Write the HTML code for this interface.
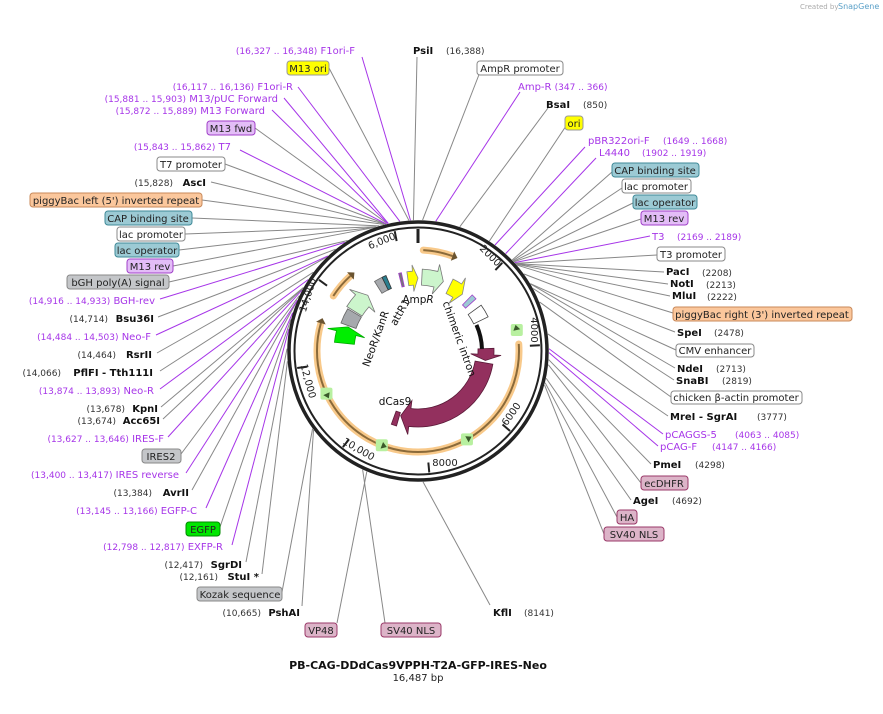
<!DOCTYPE html>
<html><head><meta charset="utf-8"><style>
html,body{margin:0;padding:0;background:#fff;}
svg{display:block;font-family:"DejaVu Sans","Liberation Sans",sans-serif;}
.t{font-size:10px;fill:#222}
.b{font-size:10px;font-weight:bold;fill:#111}
.n{font-size:9px;fill:#333}
.p{font-size:10px;fill:#a635e8}
.pn{font-size:9px;fill:#a635e8}
</style></head><body>
<svg id="s" width="883" height="714" viewBox="0 0 883 714" xmlns="http://www.w3.org/2000/svg">
<g id="lines"></g>
<g id="map"></g>
<circle cx="418" cy="351" r="129" fill="none" stroke="#222" stroke-width="3.5"/>
<circle cx="418" cy="351" r="123.5" fill="none" stroke="#222" stroke-width="2"/>
<g id="ticks"></g>
<g font-size="10" fill="#222">
<text transform="translate(488,258) rotate(45)" text-anchor="middle">2000</text>
<text transform="translate(531,330) rotate(90)" text-anchor="middle">4000</text>
<text transform="translate(514,416) rotate(-55)" text-anchor="middle">6000</text>
<text x="445" y="466" text-anchor="middle">8000</text>
<text transform="translate(357,452) rotate(30)" text-anchor="middle">10,000</text>
<text transform="translate(305,382) rotate(75)" text-anchor="middle">12,000</text>
<text transform="translate(311,296) rotate(-72)" text-anchor="middle">14,000</text>
<text transform="translate(383,244) rotate(-22)" text-anchor="middle">6,000</text>
</g>
<g font-size="10.5" fill="#111">
<text x="418" y="303" text-anchor="middle">Amp<tspan font-style="italic">R</tspan></text>
<text transform="translate(403,314) rotate(-60)" text-anchor="middle">attR1</text>
<text transform="translate(379,340) rotate(-70)" text-anchor="middle">NeoR/KanR</text>
<text transform="translate(456,340) rotate(70)" text-anchor="middle">chimeric intron</text>
<text x="395" y="405" text-anchor="middle">dCas9</text>
</g>

<g>
<text x="800" y="9" font-size="7" fill="#aaa">Created by</text><text x="838" y="9" font-size="8" fill="#5aa0c8">SnapGene</text>
<text x="355" y="54" class="p" text-anchor="end"><tspan class="pn">(16,327 .. 16,348)</tspan>  F1ori-F</text>
<rect x="287" y="61" width="42" height="14" rx="3" fill="#ffff00" stroke="#999"/><text x="308" y="72" class="t" text-anchor="middle">M13 ori</text>
<text x="413" y="54" class="b">PsiI</text><text x="446" y="54" class="n">(16,388)</text>
<rect x="477" y="61" width="86" height="14" rx="3" fill="#fff" stroke="#888"/><text x="520" y="72" class="t" text-anchor="middle">AmpR promoter</text>
<text x="518" y="90" class="p">Amp-R  <tspan class="pn">(347 .. 366)</tspan></text>
<text x="546" y="108" class="b">BsaI</text><text x="583" y="108" class="n">(850)</text>
<rect x="565" y="116" width="18" height="14" rx="3" fill="#ffff00" stroke="#999"/><text x="574" y="127" class="t" text-anchor="middle">ori</text>
<text x="588" y="144" class="p">pBR322ori-F <tspan class="pn" x="663">(1649 .. 1668)</tspan></text>
<text x="599" y="156" class="p">L4440 <tspan class="pn" x="642">(1902 .. 1919)</tspan></text>
<rect x="612" y="163" width="87" height="14" rx="3" fill="#9ccad4" stroke="#3f8a98"/><text x="655" y="174" class="t" text-anchor="middle">CAP binding site</text>
<rect x="622" y="179" width="69" height="14" rx="3" fill="#fff" stroke="#888"/><text x="656" y="190" class="t" text-anchor="middle">lac promoter</text>
<rect x="633" y="195" width="64" height="14" rx="3" fill="#9ccad4" stroke="#3f8a98"/><text x="665" y="206" class="t" text-anchor="middle">lac operator</text>
<rect x="641" y="211" width="47" height="14" rx="3" fill="#e3bdf7" stroke="#a040c8"/><text x="664" y="222" class="t" text-anchor="middle">M13 rev</text>
<text x="652" y="240" class="p">T3 <tspan class="pn" x="677">(2169 .. 2189)</tspan></text>
<rect x="657" y="247" width="68" height="14" rx="3" fill="#fff" stroke="#888"/><text x="691" y="258" class="t" text-anchor="middle">T3 promoter</text>
<text x="666" y="275" class="b">PacI</text><text x="702" y="276" class="n">(2208)</text>
<text x="670" y="287" class="b">NotI</text><text x="706" y="288" class="n">(2213)</text>
<text x="672" y="299" class="b">MluI</text><text x="707" y="300" class="n">(2222)</text>
<rect x="673" y="307" width="179" height="14" rx="3" fill="#fbc79c" stroke="#c8895a"/><text x="762" y="318" class="t" text-anchor="middle">piggyBac right (3') inverted repeat</text>
<text x="677" y="336" class="b">SpeI</text><text x="714" y="336" class="n">(2478)</text>
<rect x="676" y="344" width="78" height="13" rx="3" fill="#fff" stroke="#888"/><text x="715" y="354" class="t" text-anchor="middle">CMV enhancer</text>
<text x="677" y="372" class="b">NdeI</text><text x="716" y="372" class="n">(2713)</text>
<text x="676" y="384" class="b">SnaBI</text><text x="722" y="384" class="n">(2819)</text>
<rect x="671" y="391" width="131" height="13" rx="3" fill="#fff" stroke="#888"/><text x="736" y="401" class="t" text-anchor="middle">chicken β-actin promoter</text>
<text x="670" y="420" class="b">MreI  - SgrAI</text><text x="757" y="420" class="n">(3777)</text>
<text x="665" y="438" class="p">pCAGGS-5 <tspan class="pn" x="735">(4063 .. 4085)</tspan></text>
<text x="660" y="450" class="p">pCAG-F <tspan class="pn" x="712">(4147 .. 4166)</tspan></text>
<text x="653" y="468" class="b">PmeI</text><text x="695" y="468" class="n">(4298)</text>
<rect x="641" y="476" width="47" height="14" rx="3" fill="#dcb4c8" stroke="#9a3868"/><text x="664" y="487" class="t" text-anchor="middle">ecDHFR</text>
<text x="633" y="504" class="b">AgeI</text><text x="672" y="504" class="n">(4692)</text>
<rect x="617" y="510" width="20" height="14" rx="3" fill="#dcb4c8" stroke="#9a3868"/><text x="627" y="521" class="t" text-anchor="middle">HA</text>
<rect x="604" y="527" width="60" height="14" rx="3" fill="#dcb4c8" stroke="#9a3868"/><text x="634" y="538" class="t" text-anchor="middle">SV40 NLS</text>

<text x="493" y="616" class="b">KflI</text><text x="524" y="616" class="n">(8141)</text>
<rect x="305" y="623" width="32" height="14" rx="3" fill="#dcb4c8" stroke="#9a3868"/><text x="321" y="634" class="t" text-anchor="middle">VP48</text>
<rect x="381" y="623" width="60" height="14" rx="3" fill="#dcb4c8" stroke="#9a3868"/><text x="411" y="634" class="t" text-anchor="middle">SV40 NLS</text>
<text x="300" y="616" class="b" text-anchor="end">PshAI</text><text x="261" y="616" class="n" text-anchor="end">(10,665)</text>
<rect x="197" y="587" width="85" height="14" rx="3" fill="#c4c6c9" stroke="#888"/><text x="240" y="598" class="t" text-anchor="middle">Kozak sequence</text>
<text x="259" y="580" class="b" text-anchor="end">StuI *</text><text x="218" y="580" class="n" text-anchor="end">(12,161)</text>
<text x="242" y="568" class="b" text-anchor="end">SgrDI</text><text x="203" y="568" class="n" text-anchor="end">(12,417)</text>
<text x="223" y="550" class="p" text-anchor="end"><tspan class="pn">(12,798 .. 12,817)</tspan>  EXFP-R</text>
<rect x="186" y="522" width="34" height="14" rx="3" fill="#00e600" stroke="#080"/><text x="203" y="533" class="t" text-anchor="middle">EGFP</text>
<text x="197" y="514" class="p" text-anchor="end"><tspan class="pn">(13,145 .. 13,166)</tspan>  EGFP-C</text>
<text x="189" y="496" class="b" text-anchor="end">AvrII</text><text x="152" y="496" class="n" text-anchor="end">(13,384)</text>
<text x="179" y="478" class="p" text-anchor="end"><tspan class="pn">(13,400 .. 13,417)</tspan>  IRES reverse</text>
<rect x="142" y="449" width="39" height="14" rx="3" fill="#c4c6c9" stroke="#888"/><text x="161" y="460" class="t" text-anchor="middle">IRES2</text>
<text x="164" y="442" class="p" text-anchor="end"><tspan class="pn">(13,627 .. 13,646)</tspan>  IRES-F</text>
<text x="160" y="424" class="b" text-anchor="end">Acc65I</text><text x="116" y="424" class="n" text-anchor="end">(13,674)</text>
<text x="158" y="412" class="b" text-anchor="end">KpnI</text><text x="125" y="412" class="n" text-anchor="end">(13,678)</text>
<text x="154" y="394" class="p" text-anchor="end"><tspan class="pn">(13,874 .. 13,893)</tspan>  Neo-R</text>
<text x="153" y="376" class="b" text-anchor="end">PflFI  - Tth111I</text><text x="61" y="376" class="n" text-anchor="end">(14,066)</text>
<text x="152" y="358" class="b" text-anchor="end">RsrII</text><text x="116" y="358" class="n" text-anchor="end">(14,464)</text>
<text x="151" y="340" class="p" text-anchor="end"><tspan class="pn">(14,484 .. 14,503)</tspan>  Neo-F</text>
<text x="154" y="322" class="b" text-anchor="end">Bsu36I</text><text x="108" y="322" class="n" text-anchor="end">(14,714)</text>
<text x="155" y="304" class="p" text-anchor="end"><tspan class="pn">(14,916 .. 14,933)</tspan>  BGH-rev</text>
<rect x="67" y="275" width="102" height="14" rx="3" fill="#c4c6c9" stroke="#888"/><text x="118" y="286" class="t" text-anchor="middle">bGH poly(A) signal</text>
<rect x="127" y="259" width="46" height="14" rx="3" fill="#e3bdf7" stroke="#a040c8"/><text x="150" y="270" class="t" text-anchor="middle">M13 rev</text>
<rect x="115" y="243" width="64" height="14" rx="3" fill="#9ccad4" stroke="#3f8a98"/><text x="147" y="254" class="t" text-anchor="middle">lac operator</text>
<rect x="117" y="227" width="68" height="14" rx="3" fill="#fff" stroke="#888"/><text x="151" y="238" class="t" text-anchor="middle">lac promoter</text>
<rect x="105" y="211" width="87" height="14" rx="3" fill="#9ccad4" stroke="#3f8a98"/><text x="148" y="222" class="t" text-anchor="middle">CAP binding site</text>
<rect x="30" y="193" width="172" height="14" rx="3" fill="#fbc79c" stroke="#c8895a"/><text x="116" y="204" class="t" text-anchor="middle">piggyBac left (5') inverted repeat</text>
<text x="206" y="186" class="b" text-anchor="end">AscI</text><text x="173" y="186" class="n" text-anchor="end">(15,828)</text>
<rect x="157" y="157" width="68" height="14" rx="3" fill="#fff" stroke="#888"/><text x="191" y="168" class="t" text-anchor="middle">T7 promoter</text>
<text x="231" y="150" class="p" text-anchor="end"><tspan class="pn">(15,843 .. 15,862)</tspan>  T7</text>
<rect x="207" y="121" width="48" height="14" rx="3" fill="#e3bdf7" stroke="#a040c8"/><text x="231" y="132" class="t" text-anchor="middle">M13 fwd</text>
<text x="265" y="114" class="p" text-anchor="end"><tspan class="pn">(15,872 .. 15,889)</tspan>  M13 Forward</text>
<text x="278" y="102" class="p" text-anchor="end"><tspan class="pn">(15,881 .. 15,903)</tspan>  M13/pUC Forward</text>
<text x="293" y="90" class="p" text-anchor="end"><tspan class="pn">(16,117 .. 16,136)</tspan>  F1ori-R</text>

<text x="418" y="669" text-anchor="middle" font-size="11" font-weight="bold" fill="#111">PB-CAG-DDdCas9VPPH-T2A-GFP-IRES-Neo</text>
<text x="418" y="681" text-anchor="middle" font-size="10" fill="#222">16,487 bp</text>
</g>
</svg>
<script>
var cx=418,cy=351,NS="http://www.w3.org/2000/svg";
function P(a,r){a=a*Math.PI/180;return [cx+r*Math.sin(a),cy-r*Math.cos(a)];}
function el(g,t,at){var e=document.createElementNS(NS,t);for(var k in at)e.setAttribute(k,at[k]);document.getElementById(g).appendChild(e);return e;}
var G="#888",V="#a635e8";
var L=[
[362,57,-3.3,V],[329,68,-4,G],[417,57,-2,G],[480,72,2,G],[520,92,7.8,V],[548,108,18.6,G],[566,126,33,G],
[585,147,36,V],[596,158,42,V],[612,172,46,G],[622,188,46.4,G],[633,203,46.8,G],[641,219,47.1,G],[650,236,47.6,V],
[657,255,48,G],[664,272,48.2,G],[668,284,48.3,G],[670,296,48.5,G],[673,313,49,G],[675,332,54,G],[676,350,59,G],
[675,368,59.2,G],[674,380,61.5,G],[671,397,68,G],[668,416,82.5,G],[663,434,89,V],[658,446,90.7,V],[651,464,93.8,G],
[641,483,96,G],[631,500,102,G],[617,517,104,G],[604,534,105,G],
[490,605,177.8,G],[337,623,203,G],[385,623,205,G],[302,606,232.9,G],[282,592,233.6,G],
[262,574,265.5,G],[246,562,271,G],[232,545,279.7,V],[220,527,284,G],[206,508,287,V],[192,490,292,G],[186,473,292.8,V],
[181,454,295,G],[168,437,297.8,V],[163,419,298.6,G],[161,407,299,G],[160,389,303,V],[160,371,307,G],[157,353,315.8,G],
[156,335,316.5,V],[158,317,321,G],[160,299,326,V],[169,282,327.5,G],[173,266,340.6,G],[179,250,341,G],[185,234,341.5,G],
[192,218,342.8,G],[202,200,345,G],[211,182,345.6,G],[225,164,345.8,G],[240,150,346,V],[255,128,346.5,G],[272,110,346.7,V],
[284,98,346.9,V],[298,87,352,V]];
L.forEach(function(l){var e=P(l[2],131);el("lines","line",{x1:l[0],y1:l[1],x2:e[0],y2:e[1],stroke:l[3],"stroke-width":1});});
[43.7,87.3,131,174.7,218,262,305.7,349].forEach(function(a){var p=P(a,122),q=P(a,112);el("ticks","line",{x1:p[0],y1:p[1],x2:q[0],y2:q[1],stroke:"#222","stroke-width":2});});
var p=P(0,122),q=P(0,108);el("ticks","line",{x1:p[0],y1:p[1],x2:q[0],y2:q[1],stroke:"#222","stroke-width":3});
function arcPath(a1,a2,r){var s=P(a1,r),e=P(a2,r),lg=((a2-a1+360)%360)>180?1:0;return "M"+s+" A"+r+","+r+" 0 "+lg+" 1 "+e;}
function oarc(a1,a2,r){el("map","path",{d:arcPath(a1,a2,r),fill:"none",stroke:"#f8c98a","stroke-width":7,"stroke-linecap":"round"});
 el("map","path",{d:arcPath(a1,a2,r),fill:"none",stroke:"#8a6a3a","stroke-width":2});}
oarc(3,20,101);oarc(303,318,101);oarc(86,286,101);
function head(a,r,dir,col,sz){var t=P(a+dir*3,r),b1=P(a,r-sz),b2=P(a,r+sz);el("map","polygon",{points:t+" "+b1+" "+b2,fill:col});}
head(20,101,1,"#6b5430",5);head(318,101,1,"#6b5430",5);head(286,101,1,"#6b5430",5);
function band(a1,a2,r1,r2,fill,stroke,dir,hl){var A=a1,B=a2;var hd=hl||0;
 var e1=dir>0?B-hd:B, s1=dir<0?A+hd:A;
 var o1=P(s1,r2),o2=P(e1,r2),i2=P(e1,r1),i1=P(s1,r1);var lg=(e1-s1)>180?1:0;
 var d="M"+o1+" A"+r2+","+r2+" 0 "+lg+" 1 "+o2;
 if(dir>0){var m=(r1+r2)/2,w=(r2-r1)*0.45;d+=" L"+P(e1,r2+w)+" L"+P(B,m)+" L"+P(e1,r1-w);}
 d+=" L"+i2+" A"+r1+","+r1+" 0 "+lg+" 0 "+i1;
 if(dir<0){var m=(r1+r2)/2,w=(r2-r1)*0.45;d+=" L"+P(s1,r1-w)+" L"+P(A,m)+" L"+P(s1,r2+w);}
 d+=" Z";el("map","path",{d:d,fill:fill,stroke:stroke,"stroke-width":0.8});}
band(100,195,58,76,"#93305e","#5a1a38",1,8);
band(88,98,60,76,"#93305e","#5a1a38",1,5);
band(3,20,66,82,"#ccf5cc","#777",1,6);
band(-8,0,66,80,"#ffff00","#888",1,4);
band(26,38,64,80,"#ffff00","#888",1,5);
band(302,318,66,84,"#ccf5cc","#777",1,6);
band(290,301,66,82,"#a6a9ad","#666",0,0);
band(276,289,64,84,"#00ee00","#0a0",1,5);
band(328,334,68,82,"#a6a9ad","#666",0,0);
band(334,337,68,82,"#2a7f8f","#333",0,0);
band(-14,-12,66,80,"#777","#a040c8",0,0);
band(44,48,64,78,"#9ccad4","#a040c8",0,0);
band(54,64,62,78,"#fff","#444",0,0);
el("map","path",{d:arcPath(66,88,64),fill:"none",stroke:"#111","stroke-width":4});
band(196,200,64,78,"#93305e","#5a1a38",0,0);
[78,245,201,151].forEach(function(a){var c=P(a,101);el("map","rect",{x:c[0]-6,y:c[1]-6,width:12,height:12,fill:"#b8f0a0",rx:2});head(a,101,-1,"#3a5a2a",3.5);});
</script>
</body></html>
